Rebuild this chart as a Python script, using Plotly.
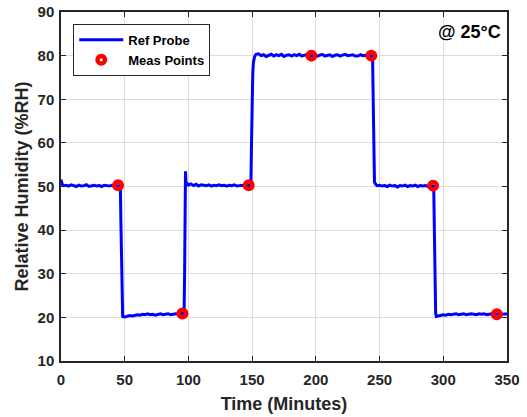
import plotly.graph_objects as go

# Reference probe trace (time in minutes, RH in %)
ref_time = [0, 0.5, 1, 2, 4, 6, 8, 10, 12, 14, 16, 18, 20, 22, 24, 26, 28, 30, 32, 34, 36, 38, 40, 42, 44, 46, 46.6,
            47.0, 47.5, 48.0, 48.4, 50, 52, 54, 56, 58, 60, 62, 64, 66, 68, 70, 72, 74, 76, 78, 80, 82, 84, 86, 88, 90, 92, 94, 96,
            96.6, 97.0, 97.4, 97.7, 97.9, 98.1, 98.4, 99, 100, 102, 104, 106, 108, 110, 112, 114, 116, 118, 120, 122, 124, 126,
            128, 130, 132, 134, 136, 138, 140, 142, 144, 146, 148, 149,
            149.5, 150, 150.5, 151, 152, 153, 155, 157, 159, 161, 163, 165, 167, 169, 171, 173, 175, 177, 179, 181, 183, 185,
            187, 189, 191, 193, 195, 197, 199, 201, 203, 205, 207, 209, 211, 213, 215, 217, 219, 221, 223, 225, 227, 229, 231,
            233, 235, 237, 239, 241, 243, 244.5,
            245, 245.5, 246, 247, 248, 250, 252, 254, 256, 258, 260, 262, 264, 266, 268, 270, 272, 274, 276, 278, 280, 282, 284,
            286, 288, 290, 292.5,
            293, 293.5, 294, 294.5, 296, 298, 300, 302, 304, 306, 308, 310, 312, 314, 316, 318, 320, 322, 324, 326, 328, 330,
            332, 334, 336, 338, 340, 342, 344, 346, 348, 350]
ref_rh = [51.6, 51.0, 50.5, 50.2, 50.3, 50.1, 50.4, 50.2, 50.0, 50.3, 50.1, 50.2, 50.4, 50.0, 50.2, 50.3, 50.1, 50.2, 50.0, 50.3, 50.2, 50.1, 50.3, 50.2, 50.1, 50.2, 50.0,
          42.0, 30.0, 21.5, 20.2, 20.1, 20.3, 20.4, 20.3, 20.5, 20.6, 20.5, 20.7, 20.6, 20.8, 20.6, 20.7, 20.5, 20.7, 20.8, 20.6, 20.7, 20.8, 20.6, 20.7, 20.8, 20.7, 20.8, 20.9,
          21.0, 30.0, 45.0, 53.5, 47.0, 50.8, 50.4, 50.7, 50.3, 50.6, 50.2, 50.5, 50.1, 50.4, 50.3, 50.2, 50.4, 50.1, 50.3, 50.2, 50.4, 50.2,
          50.3, 50.1, 50.3, 50.2, 50.4, 50.1, 50.2, 50.3, 50.1, 50.2, 50.3, 50.3,
          60.0, 73.0, 76.0, 78.5, 79.8, 80.3, 80.4, 80.0, 80.2, 79.8, 80.1, 80.3, 79.9, 80.2, 80.0, 80.3, 79.8, 80.1, 80.2, 79.9, 80.2, 80.0,
          80.3, 79.9, 80.1, 80.2, 79.8, 80.0, 80.2, 79.9, 80.1, 80.3, 79.9, 80.0, 80.2, 79.8, 80.1, 80.2, 79.9, 80.1, 80.3, 80.0, 80.1,
          80.2, 79.9, 79.9, 80.2, 80.0, 80.1, 79.9, 80.0, 80.0,
          70.0, 55.0, 51.0, 50.5, 50.2, 50.3, 50.1, 50.2, 50.0, 50.3, 50.1, 50.2, 49.9, 50.2, 50.1, 50.3, 50.0, 50.2, 50.1, 50.3, 50.0, 50.2, 50.1,
          50.2, 50.0, 50.2, 50.1,
          40.0, 28.0, 21.0, 20.2, 20.3, 20.5, 20.6, 20.5, 20.7, 20.6, 20.7, 20.8, 20.6, 20.7, 20.8, 20.6, 20.7, 20.8, 20.7, 20.6, 20.8, 20.7,
          20.8, 20.6, 20.7, 20.8, 20.7, 20.7, 20.8, 20.7, 20.8, 20.8]

# Measurement points
meas_time = [44.8, 95.3, 147.3, 196.5, 243.5, 292.0, 342.0]
meas_rh = [50.3, 20.9, 50.3, 80.0, 80.0, 50.2, 20.7]

x_ticks = [0, 50, 100, 150, 200, 250, 300, 350]
y_ticks = [10, 20, 30, 40, 50, 60, 70, 80, 90]

FONT = "Arial, Liberation Sans, sans-serif"
DARK = "#262626"

fig = go.Figure()
fig.add_trace(go.Scatter(x=ref_time, y=ref_rh, mode="lines", name="Ref Probe",
                         line=dict(color="#0000ff", width=3)))
fig.add_trace(go.Scatter(x=meas_time, y=meas_rh, mode="markers", name="Meas Points",
                         marker=dict(symbol="circle-open", size=7.5, color="#ff0000",
                                     line=dict(color="#ff0000", width=4.5))))

axis_common = dict(showgrid=True, gridcolor="#dcdcdc", gridwidth=1,
                   showline=True, linecolor=DARK, linewidth=1.5, mirror="allticks",
                   ticks="inside", ticklen=5, tickcolor=DARK, zeroline=False, automargin=False,
                   tickfont=dict(family=FONT, size=15, color=DARK, weight="bold"))

fig.update_xaxes(range=[0, 350], tickvals=x_ticks, ticklabelstandoff=4, **axis_common,
                 title=dict(text="Time (Minutes)", font=dict(family=FONT, size=18, color=DARK, weight="bold"),
                            standoff=11))
fig.update_yaxes(range=[10, 90], tickvals=y_ticks, ticklabelstandoff=2, **axis_common,
                 title=dict(text="Relative Humidity (%RH)", font=dict(family=FONT, size=18, color=DARK, weight="bold"),
                            standoff=4))

fig.add_annotation(x=1, y=1, xref="paper", yref="paper", xanchor="right", yanchor="top",
                   xshift=-4, yshift=-8, showarrow=False, text="@ 25°C",
                   font=dict(family=FONT, size=18, color="#000000", weight="bold"))

fig.update_layout(width=527, height=417, margin=dict(l=61, r=20, t=12, b=56),
                  plot_bgcolor="white", paper_bgcolor="white",
                  legend=dict(x=0.0275, y=0.966, xanchor="left", yanchor="top",
                              bgcolor="white", bordercolor=DARK, borderwidth=1,
                              font=dict(family=FONT, size=13, color="#000000", weight="bold"),
                              tracegroupgap=0, itemwidth=44))

fig.write_html("out.html")
